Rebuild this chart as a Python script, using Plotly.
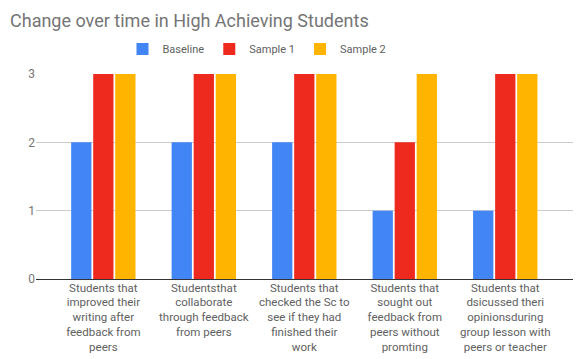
import plotly.graph_objects as go

categories = [
    "Students that<br>improved their<br>writing after<br>feedback from<br>peers",
    "Studentsthat<br>collaborate<br>through feedback<br>from peers",
    "Students that<br>checked the Sc to<br>see if they had<br>finished their<br>work",
    "Students that<br>sought out<br>feedback from<br>peers without<br>promting",
    "Students that<br>dsicussed theri<br>opinionsduring<br>group lesson with<br>peers or teacher",
]
baseline = [2, 2, 2, 1, 1]
sample1 = [3, 3, 3, 2, 3]
sample2 = [3, 3, 3, 3, 3]
series_names = ["Baseline", "Sample 1", "Sample 2"]
colors = ["#4285F4", "#EE2A1F", "#FFB400"]

fig = go.Figure()
for name, vals, col in zip(series_names, [baseline, sample1, sample2], colors):
    fig.add_trace(go.Bar(x=list(range(len(categories))), y=vals, name=name,
                         marker=dict(color=col, line=dict(width=0))))

fig.update_layout(
    width=581, height=359,
    margin=dict(l=36, r=8, t=74, b=80, autoexpand=False),
    paper_bgcolor="white", plot_bgcolor="white",
    font=dict(family="Roboto", size=12, color="#616161"),
    barmode="group", bargap=0.342, bargroupgap=0.08,
    title=dict(text="Change over time in High Achieving Students",
               x=10/581, xref="container", xanchor="left",
               y=1-21/359, yref="container", yanchor="middle",
               font=dict(family="Roboto", size=18, color="#757575")),
    legend=dict(orientation="h", x=(257-36)/537, xanchor="center", y=(279-49)/205, yanchor="middle",
                font=dict(size=11, color="#616161"), traceorder="normal",
                itemwidth=30),
    showlegend=True,
    xaxis=dict(tickmode="array", tickvals=list(range(len(categories))), ticktext=categories,
               range=[-0.67, 4.674], showgrid=False, showline=False, ticks="",
               tickangle=0, automargin=False, tickfont=dict(size=11.5, color="#616161")),
    yaxis=dict(range=[0, 3], tickvals=[0, 1, 2, 3], showgrid=True, gridcolor="#CCCCCC",
               zeroline=True, zerolinecolor="#333333", zerolinewidth=1, automargin=False,
               showline=False, ticks="", tickfont=dict(size=12, color="#757575")),
)
fig.write_html("out.html", config={"displayModeBar": False},
               post_script="document.body.style.margin='0px';document.body.style.overflow='hidden';")
